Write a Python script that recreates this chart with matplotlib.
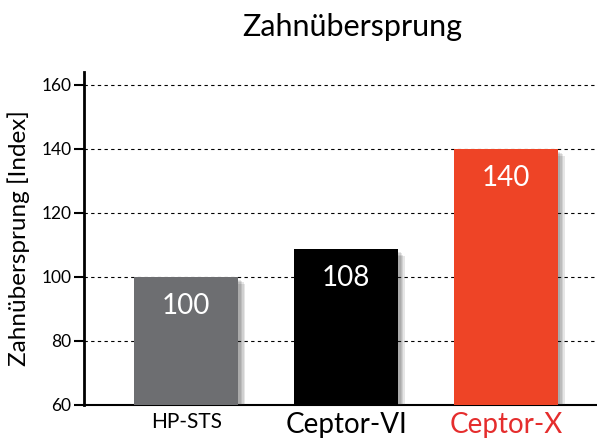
import matplotlib.pyplot as plt
import matplotlib.patheffects as pe

# data
categories = ['HP-STS', 'Ceptor-VI', 'Ceptor-X']
values = [100, 108.7, 140]
value_labels = ['100', '108', '140']
colors = ['#6d6e71', '#000000', '#ee4426']

plt.rcParams['font.family'] = ['Lato', 'DejaVu Sans']

fig = plt.figure(figsize=(5.97, 4.43), dpi=100)
ax = fig.add_axes([0.1407, 0.0858, 0.859, 0.7517])

x = range(len(categories))
bars = ax.bar(x, values, width=0.65, bottom=0, color=colors, zorder=3)
# soft-ish drop shadow
shadow = [pe.SimplePatchShadow(offset=(o, -o), shadow_rgbFace='#333333', alpha=0.12)
          for o in (5, 4, 3, 2)]
for b in bars:
    b.set_path_effects(shadow + [pe.Normal()])

# values inside bars
for xi, v, lab in zip(x, values, value_labels):
    ax.text(xi, v - 9, lab, ha='center', va='center', color='white', fontsize=20, zorder=4)

ax.set_ylim(60, 164)
ax.set_xlim(-0.64, 2.57)
ax.set_yticks([60, 80, 100, 120, 140, 160])
ax.yaxis.grid(True, linestyle=(0, (3, 3)), color='black', linewidth=0.8, zorder=0)
ax.set_axisbelow(True)

for s in ['top', 'right']:
    ax.spines[s].set_visible(False)
ax.spines['left'].set_linewidth(2)
ax.spines['bottom'].set_linewidth(1.5)
ax.tick_params(axis='y', length=7, width=1.5, labelsize=12.5, pad=2)
ax.tick_params(axis='x', length=0, pad=5)

ax.set_xticks(list(x))
ax.set_xticklabels(categories)
tl = ax.get_xticklabels()
tl[0].set_fontsize(15)
tl[1].set_fontsize(20)
tl[2].set_fontsize(20)
tl[2].set_color('#e52d2d')

ax.set_ylabel('Zahnübersprung [Index]', fontsize=17.5, labelpad=8)
fig.text(352 / 597, 1 - 27 / 443, 'Zahnübersprung', ha='center', va='center', fontsize=22)

fig.savefig('out.png', dpi=100)
